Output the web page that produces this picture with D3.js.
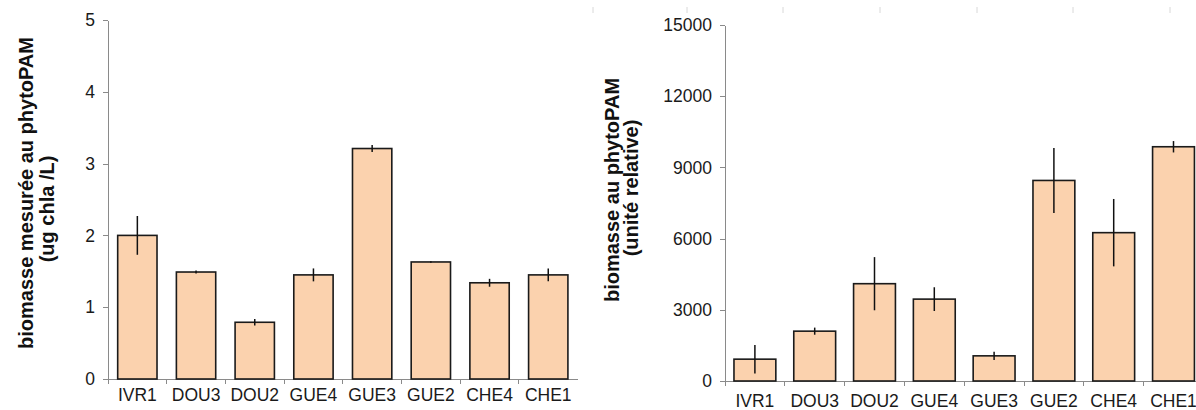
<!DOCTYPE html>
<html>
<head>
<meta charset="utf-8">
<script src="https://cdnjs.cloudflare.com/ajax/libs/d3/7.8.5/d3.min.js"></script>
<style>
body { margin: 0; background: #fff; font-family: Arial, "Liberation Sans", sans-serif; }
.axis path, .axis line { stroke: #8a8a8a; stroke-width: 1; shape-rendering: crispEdges; }
.axis text { fill: #1a1a1a; font-size: 17.5px; font-family: Arial, "Liberation Sans", sans-serif; }
.ylab { font-weight: bold; font-size: 20px; fill: #111; }
</style>
</head>
<body>
<svg width="1196" height="410"></svg>
<script>
// sites, same order in both panels
var sites = ["IVR1", "DOU3", "DOU2", "GUE4", "GUE3", "GUE2", "CHE4", "CHE1"];

// left panel: biomass in ug chla / L
var chla = [2.0, 1.49, 0.79, 1.45, 3.21, 1.63, 1.34, 1.45];
var chlaErr = [0.27, 0.02, 0.045, 0.09, 0.05, 0.01, 0.055, 0.09];
var chlaTicks = [0, 1, 2, 3, 4, 5];

// right panel: biomass in relative units
var rel = [920, 2100, 4100, 3450, 1060, 8450, 6250, 9870];
var relErr = [600, 150, 1120, 500, 170, 1370, 1420, 240];
var relTicks = [0, 3000, 6000, 9000, 12000, 15000];

var svg = d3.select("svg");

// faint marks along the top edge of the scan
svg.selectAll("line.scan")
  .data([593, 687, 783, 880, 977, 1073, 1170])
  .enter().append("line")
  .attr("x1", function(d) { return d; })
  .attr("x2", function(d) { return d; })
  .attr("y1", 7).attr("y2", 13)
  .attr("stroke", "#d8d8d8")
  .attr("stroke-width", 1);

function panel(opt) {
  var x = d3.scaleBand()
    .domain(sites)
    .range([opt.x0, opt.x1])
    .paddingInner(opt.pad)
    .paddingOuter(opt.pad / 2);
  var y = d3.scaleLinear()
    .domain([0, opt.max])
    .range([opt.y0, opt.y1]);
  var g = svg.append("g");

  // y axis
  g.append("g")
    .attr("class", "axis")
    .attr("transform", "translate(" + opt.x0 + ",0)")
    .call(d3.axisLeft(y).tickValues(opt.ticks).tickSize(5).tickSizeOuter(0).tickPadding(8).tickFormat(d3.format("d")));

  // x axis line + labels
  var xa = g.append("g")
    .attr("class", "axis")
    .attr("transform", "translate(0," + opt.y0 + ")")
    .call(d3.axisBottom(x).tickSize(0).tickPadding(opt.lblPad));
  xa.select(".domain").attr("d", "M" + opt.x0 + ",0.5H" + opt.x1);

  // separators between categories
  var step = x.step();
  g.selectAll("line.sep")
    .data(sites)
    .enter().append("line")
    .attr("x1", function(d) { return x(d) - step * opt.pad / 2; })
    .attr("x2", function(d) { return x(d) - step * opt.pad / 2; })
    .attr("y1", opt.y0).attr("y2", opt.y0 + 5)
    .attr("stroke", "#8a8a8a")
    .attr("shape-rendering", "crispEdges");

  // bars
  g.selectAll("rect.bar")
    .data(opt.vals)
    .enter().append("rect")
    .attr("x", function(d, i) { return x(sites[i]); })
    .attr("y", function(d) { return y(d); })
    .attr("width", x.bandwidth())
    .attr("height", function(d) { return opt.y0 - y(d); })
    .attr("fill", "#fbd2ae")
    .attr("stroke", "#1a1a1a")
    .attr("stroke-width", 1.6);

  // error bars
  g.selectAll("line.err")
    .data(opt.vals)
    .enter().append("line")
    .attr("x1", function(d, i) { return x(sites[i]) + x.bandwidth() / 2; })
    .attr("x2", function(d, i) { return x(sites[i]) + x.bandwidth() / 2; })
    .attr("y1", function(d, i) { return y(d + opt.err[i]); })
    .attr("y2", function(d, i) { return y(d - opt.err[i]); })
    .attr("stroke", "#111")
    .attr("stroke-width", 1.5);

  // axis title, two lines
  opt.title.forEach(function(t) {
    g.append("text")
      .attr("class", "ylab")
      .attr("transform", "translate(" + t.x + "," + t.y + ") rotate(-90)")
      .attr("text-anchor", "middle")
      .text(t.text);
  });
}

panel({
  x0: 108, x1: 577.6, y0: 379, y1: 20, max: 5, pad: 0.33, lblPad: 10,
  vals: chla, err: chlaErr, ticks: chlaTicks,
  title: [
    { text: "biomasse mesurée au phytoPAM", x: 33, y: 193 },
    { text: "(ug chla /L)", x: 54, y: 209 }
  ]
});

panel({
  x0: 725, x1: 1203.4, y0: 381, y1: 25, max: 15000, pad: 0.30, lblPad: 14,
  vals: rel, err: relErr, ticks: relTicks,
  title: [
    { text: "biomasse au phytoPAM", x: 619, y: 190 },
    { text: "(unité relative)", x: 638, y: 188 }
  ]
});
</script>
</body>
</html>
